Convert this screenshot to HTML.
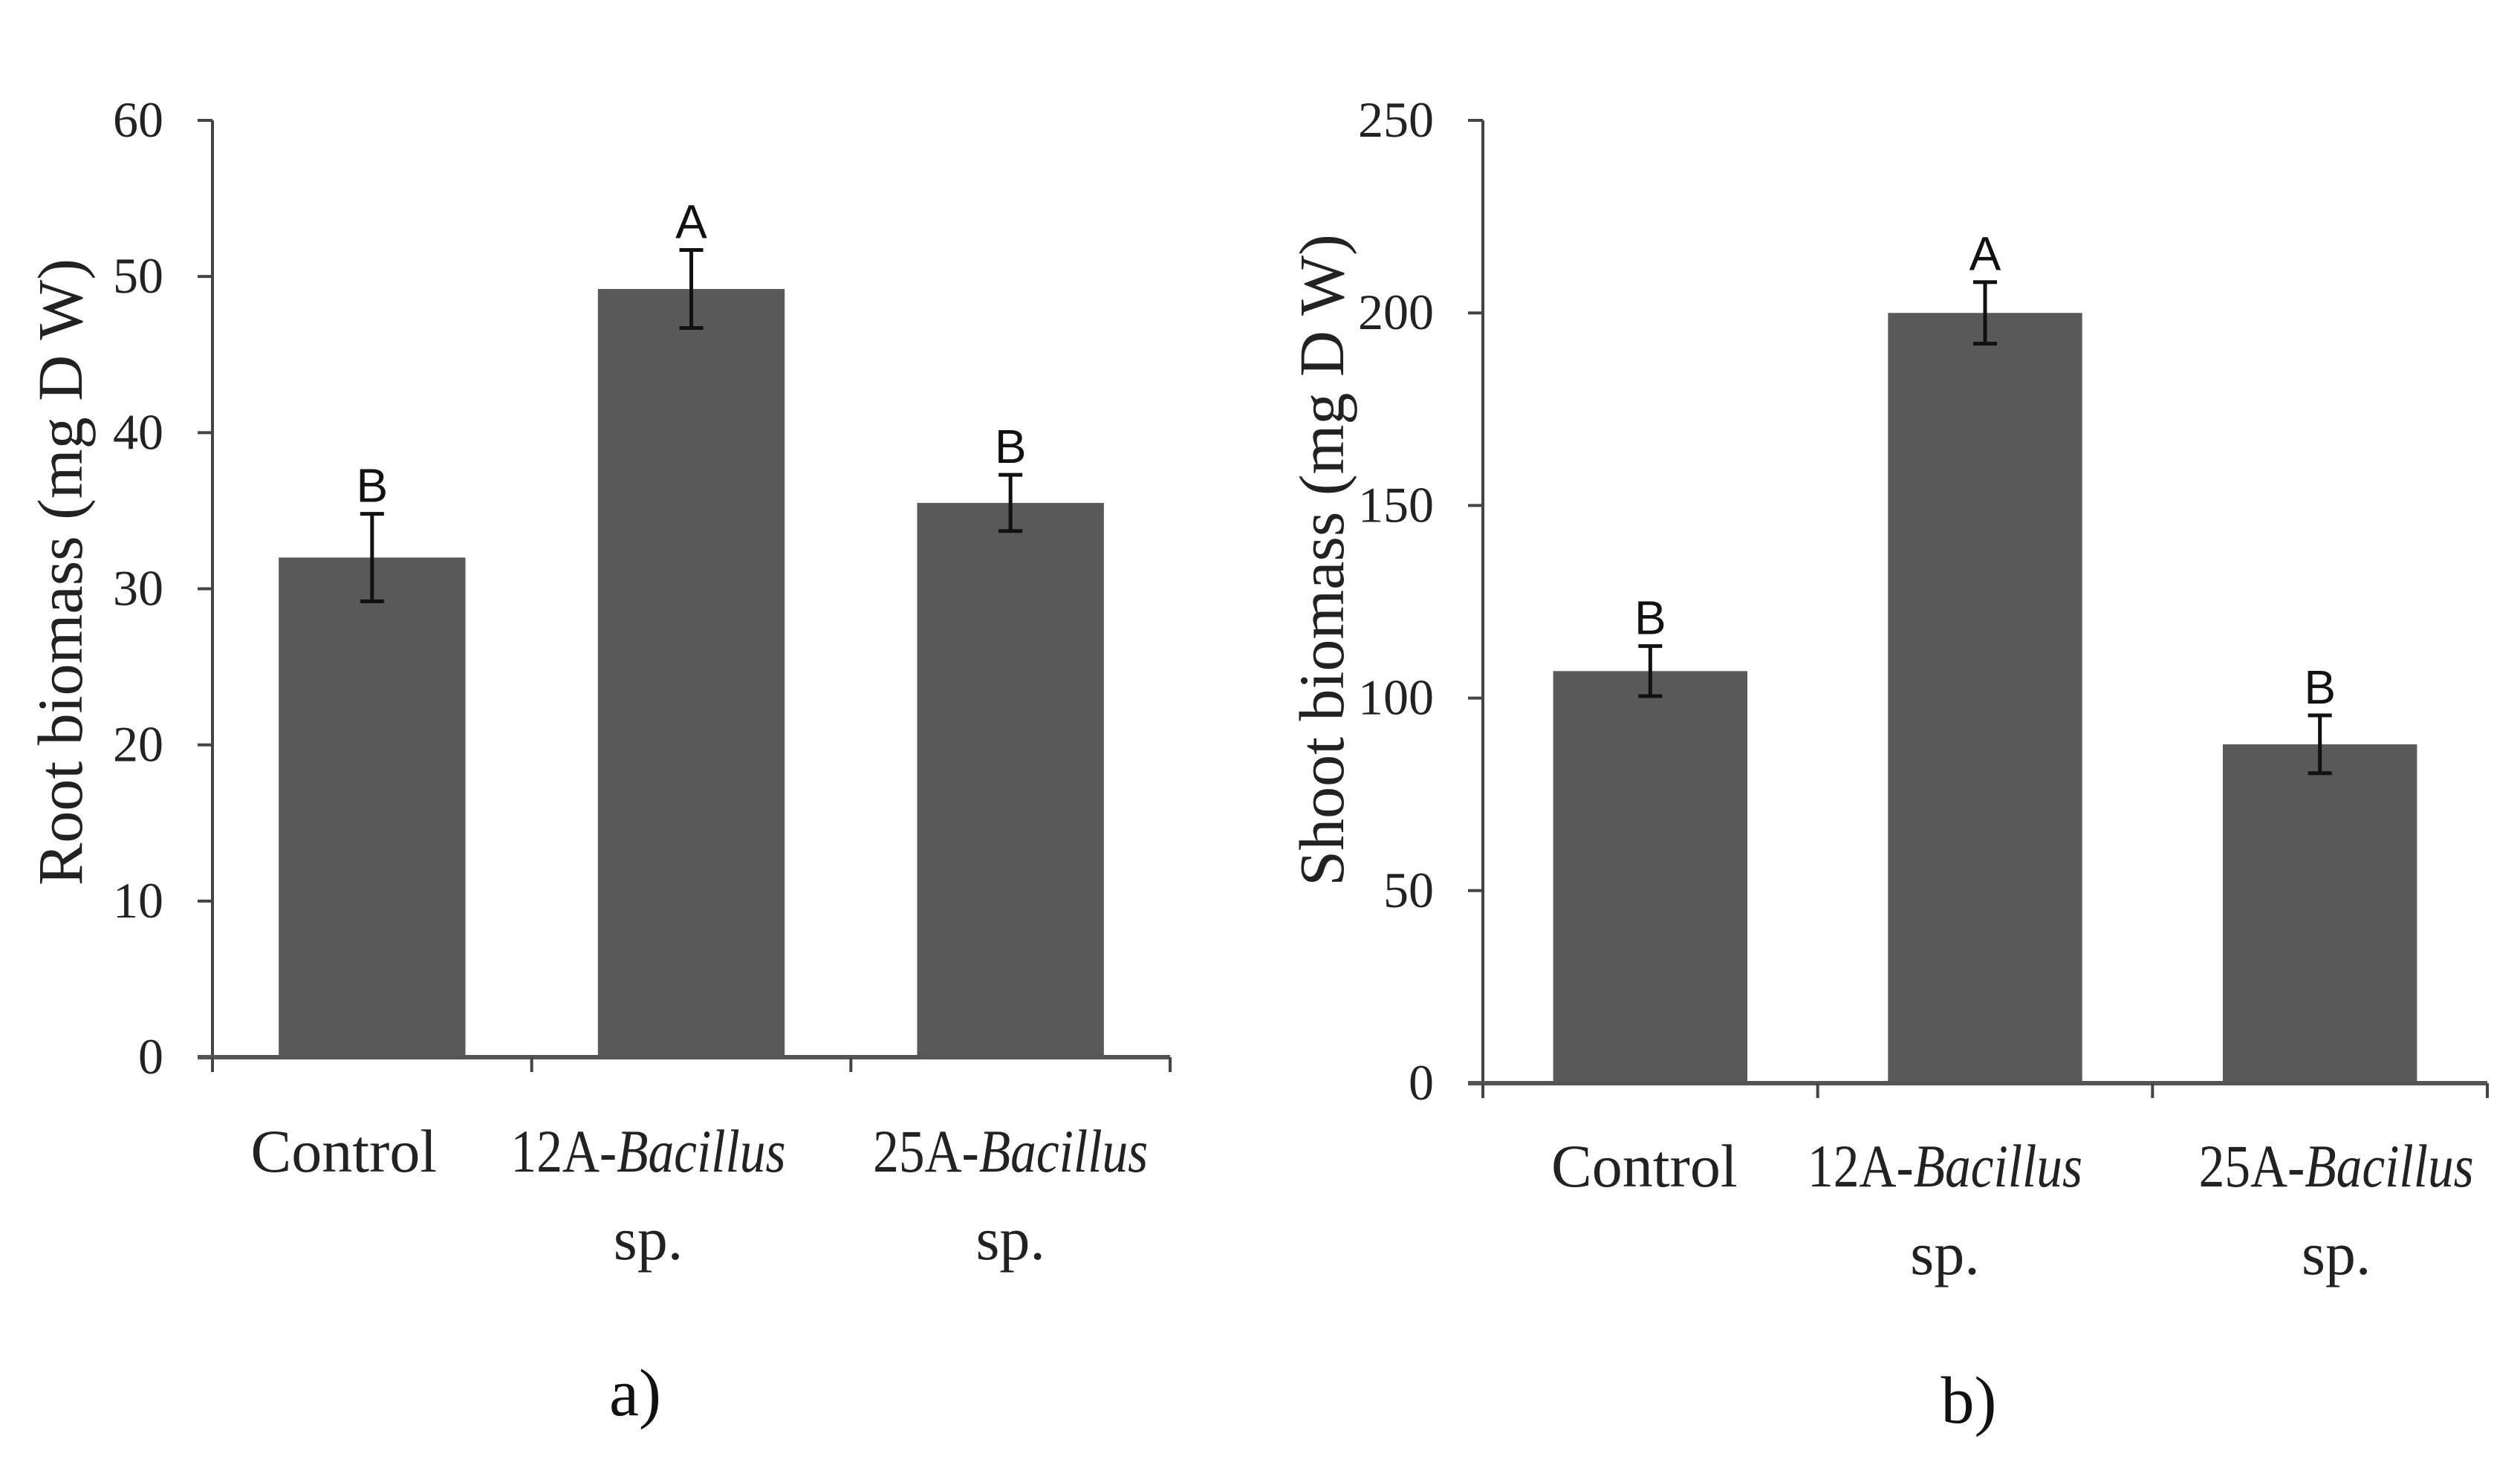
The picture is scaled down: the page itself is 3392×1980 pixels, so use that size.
<!DOCTYPE html>
<html><head><meta charset="utf-8"><style>
html,body{margin:0;padding:0;background:#fff;}
svg{display:block;}
.tick{font-family:"Liberation Serif",serif;font-size:68px;fill:#222;}
.ttl{font-family:"Liberation Serif",serif;font-size:86px;fill:#222;}
.cat{font-family:"Liberation Serif",serif;font-size:82px;fill:#222;}
.let{font-family:"Liberation Sans",sans-serif;font-size:64px;fill:#111;}
.pan{font-family:"Liberation Serif",serif;font-size:90px;fill:#111;}
</style></head><body>
<svg id="fig" width="3392" height="1980" viewBox="0 0 3392 1980" xmlns="http://www.w3.org/2000/svg"></svg>
<script>
const categories = ["Control", "12A-Bacillus sp.", "25A-Bacillus sp."];
const rootValues = [32, 49.2, 35.5];
const rootErrors = [2.8, 2.5, 1.8];
const rootLetters = ["B", "A", "B"];
const rootTicks = [0, 10, 20, 30, 40, 50, 60];
const shootValues = [107, 200, 88];
const shootErrors = [6.5, 8, 7.5];
const shootLetters = ["B", "A", "B"];
const shootTicks = [0, 50, 100, 150, 200, 250];

const NS = "http://www.w3.org/2000/svg";
const svg = document.getElementById("fig");
function mk(tag, attrs, parent) {
  const e = document.createElementNS(NS, tag);
  for (const k in attrs) e.setAttribute(k, attrs[k]);
  (parent || svg).appendChild(e);
  return e;
}

function drawChart(cfg, values, errors, letters, ticks) {
  const g = mk("g", {});
  
  
  const maxV = ticks[ticks.length - 1];
  const y = v => cfg.y0 - (v / maxV) * (cfg.y0 - cfg.yTop);
  const n = values.length;
  const band = (cfg.xEnd - cfg.x0) / n;
  const bx = i => cfg.x0 + band * i + band * 0.5;
  const ya = mk("line", {x1: cfg.x0, y1: cfg.yTop, x2: cfg.x0, y2: cfg.y0 + 16, stroke: "#444", "stroke-width": 4}, g);
  
  
  ticks.forEach(t => {
    const tl = mk("line", {x1: cfg.x0 - 20, y1: y(t), x2: cfg.x0, y2: y(t), stroke: "#444", "stroke-width": 4}, g);
    
    
    const tx = mk("text", {x: cfg.x0 - 66, y: y(t) + 22, "text-anchor": "end", class: "tick"}, g);
    tx.textContent = t;
    
    
  });
  values.forEach((v, i) => {
    const w = band * cfg.barFrac;
    const r = mk("rect", {x: bx(i) - w / 2, y: y(v), width: w, height: cfg.y0 - y(v), fill: "#595959"}, g);
    
    
    const e = errors[i];
    const eg = mk("g", {stroke: "#111", "stroke-width": 5}, g);
    
    
    mk("line", {x1: bx(i), y1: y(v + e), x2: bx(i), y2: y(v - e)}, eg);
    mk("line", {x1: bx(i) - 16, y1: y(v + e), x2: bx(i) + 16, y2: y(v + e)}, eg);
    mk("line", {x1: bx(i) - 16, y1: y(v - e), x2: bx(i) + 16, y2: y(v - e)}, eg);
    const lt = mk("text", {x: bx(i), y: y(v + e) - 16, "text-anchor": "middle", class: "let"}, g);
    lt.textContent = letters[i];
    
    
  });
  const xa = mk("line", {x1: cfg.x0 - 20, y1: cfg.y0, x2: cfg.xEnd, y2: cfg.y0, stroke: "#555", "stroke-width": 6}, g);
  
  
  for (let i = 0; i <= n; i++) {
    const xt = cfg.x0 + band * i;
    mk("line", {x1: xt, y1: cfg.y0, x2: xt, y2: cfg.y0 + 20, stroke: "#444", "stroke-width": 4}, g);
  }
  categories.forEach((c, i) => {
    const t = mk("text", {x: bx(i) + cfg.catDx[i], y: cfg.catY, "text-anchor": "middle", class: "cat"}, g);
    
    
    if (c === "Control") { t.textContent = c; return; }
    t.setAttribute("textLength", 370);
    t.setAttribute("lengthAdjust", "spacingAndGlyphs");
    const parts = c.split("-");
    const rest = parts[1].split(" ");
    const a = mk("tspan", {}, t); a.textContent = parts[0] + "-";
    const b = mk("tspan", {"font-style": "italic"}, t); b.textContent = rest[0];
    const t2 = mk("text", {x: bx(i) + cfg.catDx[i], y: cfg.catY + cfg.spDy, "text-anchor": "middle", class: "cat"}, g);
    t2.textContent = rest[1];
    
    
  });
  const yt = mk("text", {x: 0, y: 0, "text-anchor": "middle", class: "ttl", transform: `translate(${cfg.titleX},${cfg.titleY}) rotate(-90)`}, g);
  yt.textContent = cfg.title;
  
  
  const p = mk("text", {x: cfg.panelX, y: cfg.panelY, "text-anchor": "middle", class: "pan"}, g);
  p.textContent = cfg.panel;
  
  
}

drawChart({name: "root-biomass-chart", x0: 286, xEnd: 1575, yTop: 162, y0: 1423, barFrac: 0.585,
  catDx: [-38, -58, 0], catY: 1577, spDy: 118, title: "Root biomass (mg D W)", titleX: 110, titleY: 770,
  panel: "a)", panelX: 855, panelY: 1905}, rootValues, rootErrors, rootLetters, rootTicks);
drawChart({name: "shoot-biomass-chart", x0: 1996, xEnd: 3348, yTop: 162, y0: 1458, barFrac: 0.58,
  catDx: [-8, -54, 22], catY: 1597, spDy: 118, title: "Shoot biomass (mg D W)", titleX: 1808, titleY: 754,
  panel: "b)", panelX: 2650, panelY: 1915}, shootValues, shootErrors, shootLetters, shootTicks);
</script>
</body></html>
